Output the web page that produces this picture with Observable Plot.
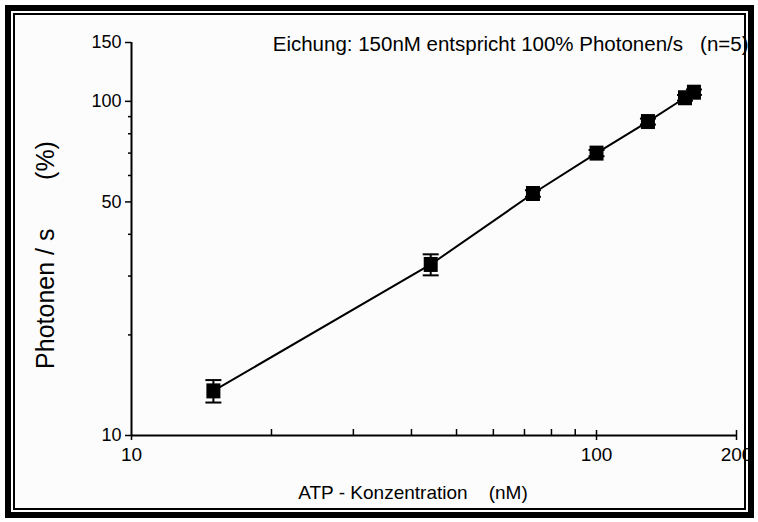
<!DOCTYPE html>
<html><head><meta charset="utf-8">
<script src="https://cdn.jsdelivr.net/npm/d3@7"></script>
<script src="https://cdn.jsdelivr.net/npm/@observablehq/plot@0.6"></script>
<style>
body{margin:0;background:#fff;}
#wrap{position:relative;width:758px;height:522px;overflow:hidden;font-family:"Liberation Sans",Arial,sans-serif;}
#outer{position:absolute;left:5px;top:5px;width:737px;height:501px;border:6px solid #000;}
#inner{position:absolute;left:2px;top:2px;right:2px;bottom:2px;border:2px solid #000;background:#fcfcfc}
#chart{position:absolute;left:0;top:0}
svg text{white-space:pre}
</style></head>
<body>
<div id="wrap"><div id="outer"><div id="inner"></div></div><div id="chart"></div></div>
<script>
// Data
const concentrations = [15, 44, 73, 100, 129, 155, 162];           // ATP (nM)
const photons       = [13.6, 32.5, 53, 70, 87, 102.5, 106.5];      // Photonen/s (%)
const errors        = [1.05, 2.35, 1.2, 1.5, 1.8, 2, 2];
const xMajorTicks = [10, 100, 200];
const xMinorTicks = [20, 30, 40, 50, 60, 70, 80, 90];
const yMajorTicks = [10, 50, 100, 150];
const yMinorTicks = [20, 30, 40, 60, 70, 80, 90];
const xTitle = "ATP - Konzentration    (nM)";
const yTitle = "Photonen / s       (%)";
const note = "Eichung: 150nM entspricht 100% Photonen/s   (n=5)";

const data = concentrations.map((x, i) => ({x, y: photons[i], lo: photons[i] - errors[i], hi: photons[i] + errors[i]}));

const cap = {draw(ctx) { ctx.moveTo(-8, 0); ctx.lineTo(8, 0); }};
const sq = {draw(ctx) { ctx.rect(-7, -7.5, 14, 15); }};

const W = 758, H = 522, mL = 131, mR = 22, mT = 42, mB = 87;
const plotH = H - mT - mB;

const chart = Plot.plot({
  width: W, height: H,
  marginLeft: mL, marginRight: mR, marginTop: mT, marginBottom: mB,
  style: {background: "transparent", fontFamily: "'Liberation Sans', Arial, sans-serif", color: "#000"},
  x: {type: "log", domain: [10, 200]},
  y: {type: "log", domain: [10, 150]},
  marks: [
    Plot.ruleX([10], {strokeWidth: 2}),
    Plot.ruleY([10], {strokeWidth: 2}),
    Plot.axisY({ticks: yMajorTicks, tickFormat: d => String(d), tickSize: 6, tickPadding: 4, fontSize: 18, label: null, strokeWidth: 1.5}),
    Plot.axisY({ticks: yMinorTicks, tickFormat: () => "", tickSize: 3, label: null, strokeWidth: 1.5}),
    Plot.axisX({ticks: xMajorTicks, tickFormat: d => String(d), tickSize: 5, tickPadding: 7, fontSize: 19, label: null, strokeWidth: 1.5}),
    Plot.tickX(xMajorTicks.slice(1), {x: d => d, insetTop: plotH - 5, strokeWidth: 1.5}),
    Plot.tickX(xMinorTicks, {x: d => d, insetTop: plotH - 6, strokeWidth: 1.5}),
    Plot.line(data, {x: "x", y: "y", strokeWidth: 2}),
    Plot.ruleX(data, {x: "x", y1: "lo", y2: "hi", strokeWidth: 2}),
    Plot.dot(data, {x: "x", y: "lo", symbol: cap, stroke: "#000", fill: "none", strokeWidth: 2}),
    Plot.dot(data, {x: "x", y: "hi", symbol: cap, stroke: "#000", fill: "none", strokeWidth: 2}),
    Plot.dot(data, {x: "x", y: "y", symbol: sq, fill: "#000", stroke: "none"}),
    Plot.text([note], {frameAnchor: "top-right", textAnchor: "end", lineAnchor: "middle", dx: 12, dy: 2, fontSize: 20.5}),
    Plot.text([xTitle], {frameAnchor: "bottom", textAnchor: "middle", lineAnchor: "middle", dx: -21, dy: 57, fontSize: 19}),
    Plot.text([yTitle], {frameAnchor: "left", textAnchor: "middle", lineAnchor: "middle", rotate: -90, dx: -86, dy: 16, fontSize: 25})
  ]
});
document.getElementById("chart").appendChild(chart);
</script>
</body></html>
